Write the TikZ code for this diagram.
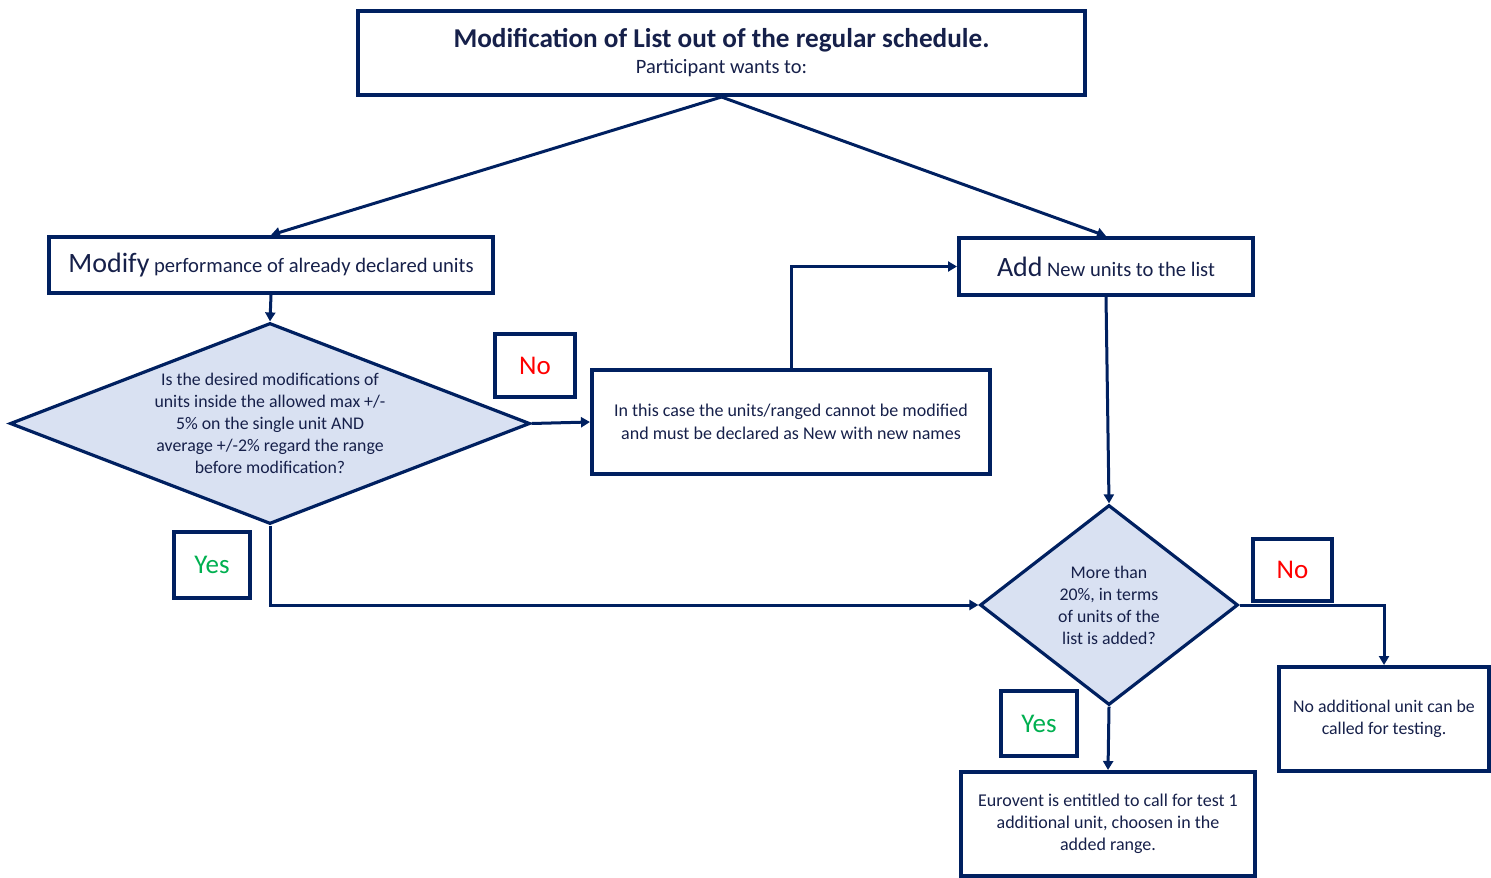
\documentclass[tikz,border=0pt]{standalone}
\usepackage{fontspec}
\setmainfont{Carlito}
\usetikzlibrary{arrows.meta,positioning,shapes.geometric}
\definecolor{navy}{HTML}{002060}
\definecolor{navytext}{HTML}{16204A}
\definecolor{diafill}{HTML}{D9E1F2}
\definecolor{noRed}{HTML}{FF0000}
\definecolor{yesGreen}{HTML}{00B050}

\tikzset{
  box/.style={draw=navy,line width=2pt,fill=white,text=navytext,align=center,inner sep=0pt},
  tagbox/.style={box,font=\fontsize{13.5}{15}\selectfont},
  dia/.style={diamond,draw=navy,line width=1.6pt,fill=diafill,inner sep=0pt},
  diatext/.style={align=center,text=navytext,font=\fontsize{8.9}{11}\selectfont},
  conn/.style={draw=navy,line width=1.5pt,-{Triangle[length=4.5pt,width=5pt]}}
}

\begin{document}
\begin{tikzpicture}[x=0.5pt,y=-0.5pt]
\useasboundingbox (0,0) rectangle (1491,877);
% boxes
\node[box,minimum width=363.5pt,minimum height=42pt] (title) at (721.5,53)
  {{\fontsize{13.6}{15}\selectfont\bfseries Modification of List out of the regular schedule.}\\[1pt]
   {\fontsize{10.2}{12}\selectfont Participant wants to:}};
\node[box,minimum width=222pt,minimum height=28pt] (modify) at (271,265)
  {{\fontsize{14}{15}\selectfont Modify} {\fontsize{10.3}{12}\selectfont performance of already declared units}};
\node[box,minimum width=147pt,minimum height=28.5pt] (add) at (1106,266.5)
  {{\fontsize{14}{15}\selectfont Add} {\fontsize{10.3}{12}\selectfont New units to the list}};
\node[box,minimum width=199pt,minimum height=52pt,font=\fontsize{9}{11.5}\selectfont] (inthis) at (791,422)
  {In this case the units/ranged cannot be modified\\and must be declared as New with new names};
\node[box,minimum width=147pt,minimum height=52pt,font=\fontsize{9}{11}\selectfont] (eurovent) at (1108,824)
  {Eurovent is entitled to call for test 1\\additional unit, choosen in the\\added range.};
\node[box,minimum width=105pt,minimum height=52pt,font=\fontsize{8.9}{11}\selectfont] (noadd) at (1384,719)
  {No additional unit can be\\called for testing.};
% decisions
\node[dia,minimum width=260pt,minimum height=100.5pt,
  label={[diatext]center:{Is the desired modifications of\\units inside the allowed max +/-\\5\% on the single unit AND\\average +/-2\% regard the range\\before modification?}}] (d1) at (270,423.5) {};
\node[dia,minimum width=129pt,minimum height=100pt,
  label={[diatext]center:{More than\\20\%, in terms\\of units of the\\list is added?}}] (d2) at (1109,605) {};
% answer tags
\node[tagbox,minimum width=40pt,minimum height=31.5pt,text=noRed] (no1) at (535,365.5) {No};
\node[tagbox,minimum width=38pt,minimum height=33pt,text=yesGreen] (yes1) at (212,565) {Yes};
\node[tagbox,minimum width=39.5pt,minimum height=31pt,text=noRed] (no2) at (1292.5,570) {No};
\node[tagbox,minimum width=38pt,minimum height=32.5pt,text=yesGreen] (yes2) at (1039,723.5) {Yes};
% connectors
\draw[conn] (title.south) -- (modify.north);
\draw[conn] (title.south) -- (add.north);
\draw[conn] (modify.south) -- (d1.north);
\draw[conn] (d1.east) -- (inthis.west);
\draw[conn] (inthis.north) |- (add.west);
\draw[conn] (add.south) -- (d2.north);
\draw[conn] (d1.south) |- (d2.west);
\draw[conn] (d2.east) -| (noadd.north);
\draw[conn] (d2.south) -- (eurovent.north);
\end{tikzpicture}
\end{document}
